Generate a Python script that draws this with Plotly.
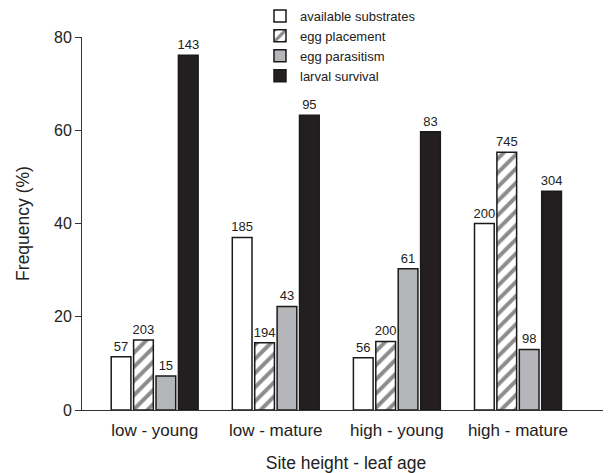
import plotly.graph_objects as go

categories = ["low - young", "low - mature", "high - young", "high - mature"]
series_names = ["available substrates", "egg placement", "egg parasitism", "larval survival"]
available = [11.4, 37.0, 11.2, 40.0]
placement = [15.0, 14.4, 14.7, 55.3]
parasitism = [7.3, 22.2, 30.3, 13.0]
survival = [76.1, 63.2, 59.7, 46.9]
n_available = ["57", "185", "56", "200"]
n_placement = ["203", "194", "200", "745"]
n_parasitism = ["15", "43", "61", "98"]
n_survival = ["143", "95", "83", "304"]
y_ticks = [0, 20, 40, 60, 80]

FONT = "Liberation Sans, Arial, Helvetica, sans-serif"
fig = go.Figure()

def add(name, vals, labels, color, pattern=None):
    marker = dict(color=color, line=dict(color="#1a1a1a", width=1.5))
    if pattern:
        marker["pattern"] = pattern
    fig.add_trace(go.Bar(
        x=categories, y=vals, name=name, marker=marker,
        text=labels, textposition="outside", constraintext="none",
        textfont=dict(size=13, color="#222", family=FONT), cliponaxis=False,
    ))

add(series_names[0], available, n_available, "white")
add(series_names[1], placement, n_placement, "white",
    dict(shape="/", fgcolor="#1a1a1a", bgcolor="white", size=10, solidity=0.4))
add(series_names[2], parasitism, n_parasitism, "#b5b6b9")
add(series_names[3], survival, n_survival, "#231f20")

fig.update_layout(
    width=611, height=473,
    margin=dict(l=74, r=9, t=29, b=71, autoexpand=False),
    plot_bgcolor="white", paper_bgcolor="white",
    barmode="group", bargap=0.26, bargroupgap=0.12,
    font=dict(family=FONT, color="#222"),
    showlegend=True,
    legend=dict(x=0.3371, xanchor="left", y=1.0965, yanchor="top",
                font=dict(size=13, family=FONT), tracegroupgap=0,
                bgcolor="rgba(0,0,0,0)"),
    xaxis=dict(range=[-0.6, 3.76], showline=True, linecolor="#333", linewidth=1,
               ticks="", tickfont=dict(size=17), showgrid=False, ticklabelstandoff=5,
               title=dict(text="Site height - leaf age", font=dict(size=17.5), standoff=17)),
    yaxis=dict(range=[0, 80], tickvals=y_ticks, showline=True, linecolor="#333", linewidth=1,
               ticks="outside", ticklen=6, tickcolor="#333", tickfont=dict(size=16),
               showgrid=False, zeroline=False,
               title=dict(text="Frequency (%)", font=dict(size=17.5), standoff=19)),
)

fig.write_html("out.html")
